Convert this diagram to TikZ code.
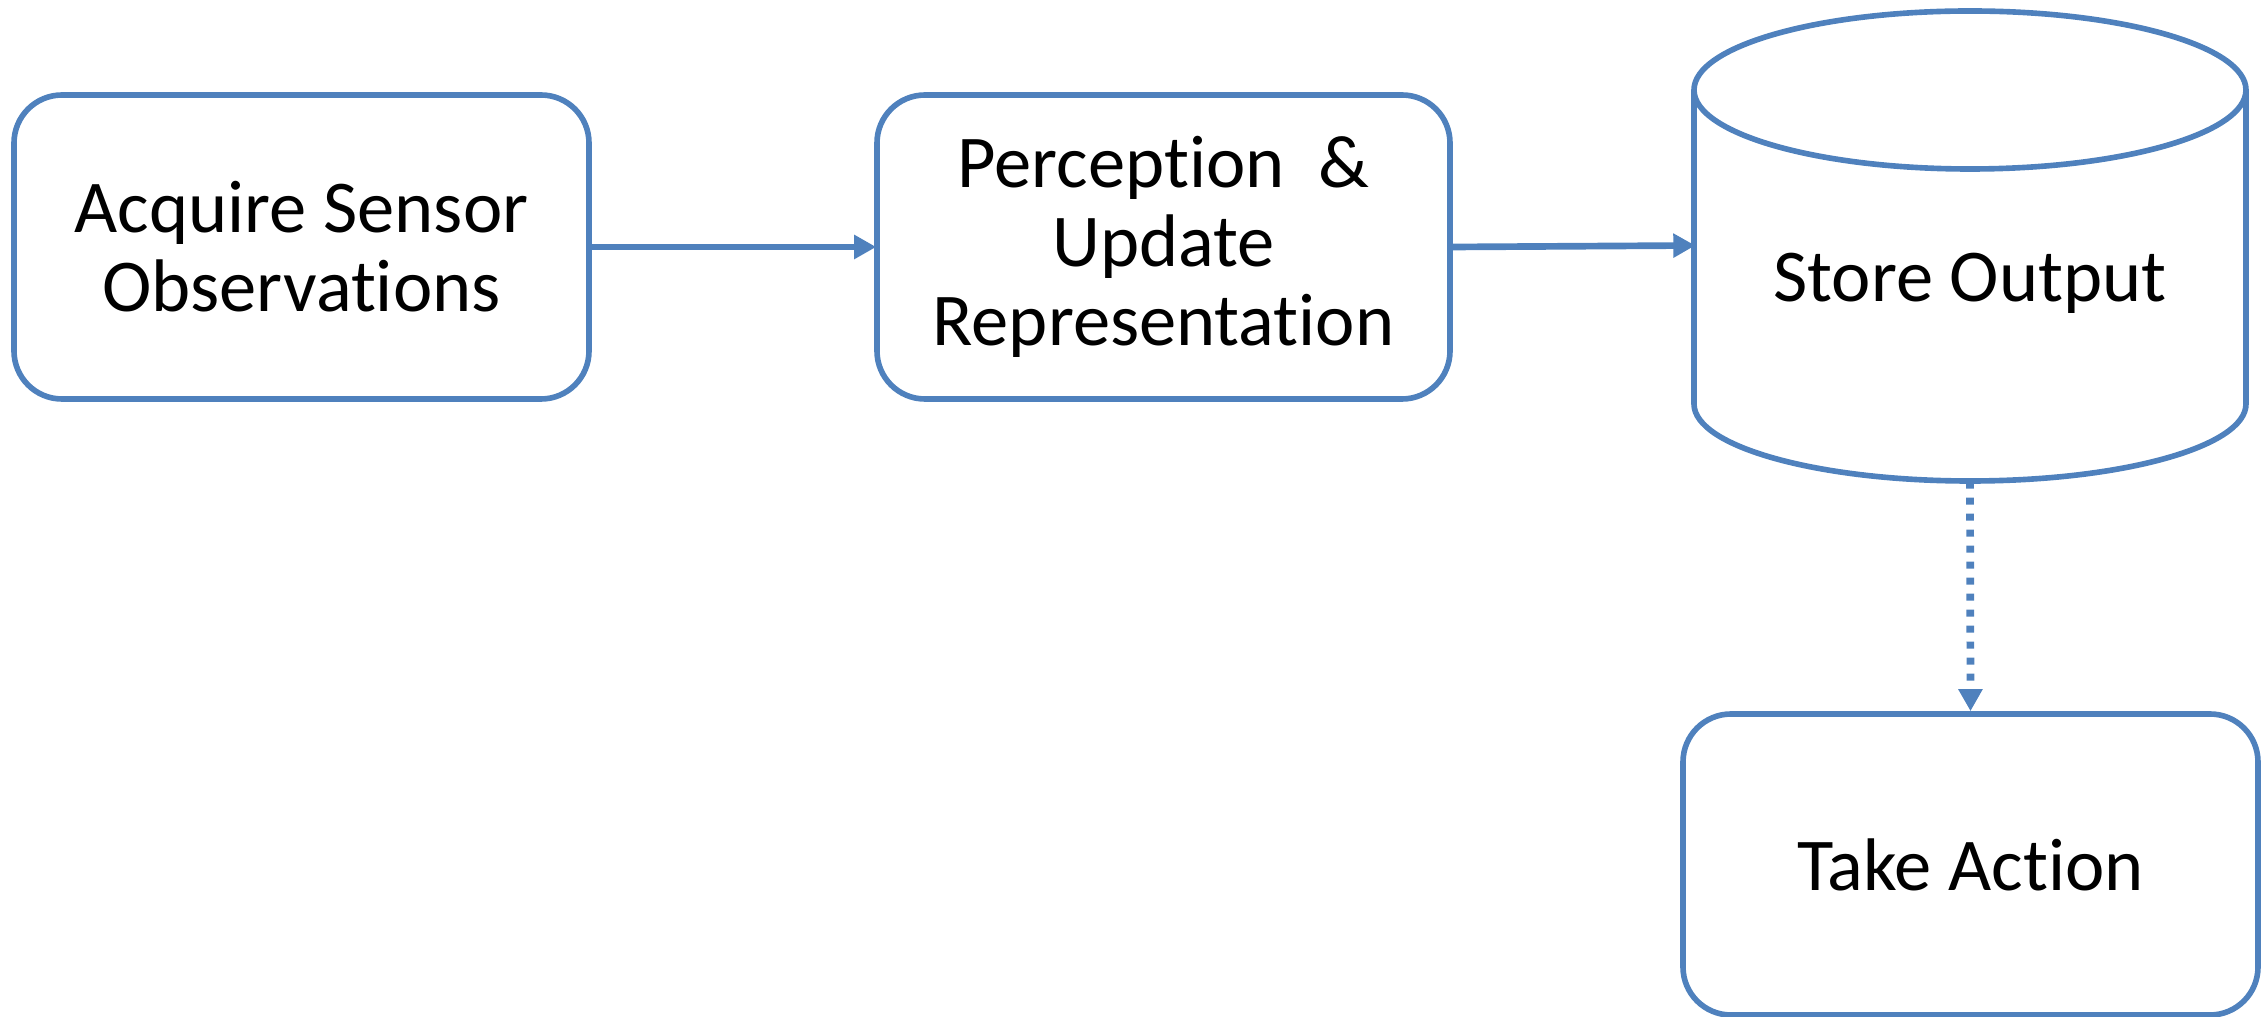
\documentclass[tikz,border=0pt]{standalone}
\usepackage{fontspec}
\setmainfont{Carlito}[Ligatures=NoCommon]
\usetikzlibrary{arrows.meta}
\definecolor{outline}{RGB}{79,129,189}
\tikzset{
  procbox/.style={draw=outline, line width=1.6pt, rounded corners=0.48cm,
    minimum width=5.75cm, minimum height=3.04cm, inner sep=0pt,
    align=center, font=\fontsize{21.2pt}{22.5pt}\selectfont},
  lbl/.style={inner sep=0pt, align=center, font=\fontsize{21.2pt}{22.5pt}\selectfont},
  arr/.style={draw=outline, line width=1.9pt,
    -{Triangle[length=0.22cm, width=0.23cm]}, shorten >=-0.02cm},
  dotarr/.style={draw=outline, line width=2.2pt, dash pattern=on 0.07cm off 0.09cm,
    -{Triangle[length=0.22cm, width=0.23cm]}}
}
\begin{document}
\begin{tikzpicture}
  \useasboundingbox (0,0) rectangle (22.65,-10.17);

  % process steps
  \node[procbox] (acq) at (3.015,-2.47) {Acquire Sensor\\Observations};
  \node[procbox, minimum width=5.73cm] (perc) at (11.635,-2.47)
    {Perception~\ \&\\Update\\Representation};
  \node[procbox, minimum height=3.01cm] (act) at (19.705,-8.645) {Take Action};

  % data store drawn as a cylinder
  \node[minimum width=5.52cm, minimum height=4.71cm, inner sep=0pt] (store) at (19.70,-2.455) {};
  \draw[outline, line width=1.6pt]
    (19.70,-0.90) ellipse [x radius=2.76cm, y radius=0.79cm];
  \draw[outline, line width=1.6pt]
    (16.94,-0.90) -- (16.94,-4.04)
    arc [start angle=180, end angle=360, x radius=2.76cm, y radius=0.77cm]
    -- (22.46,-0.90);
  \node[lbl] (storetxt) at (19.70,-2.83) {Store Output};

  % connectors
  \draw[arr] (acq.east) -- (perc.west);
  \draw[arr] (perc.east) -- (store.west);
  \draw[dotarr] (store.south) -- (act.north);
\end{tikzpicture}
\end{document}
